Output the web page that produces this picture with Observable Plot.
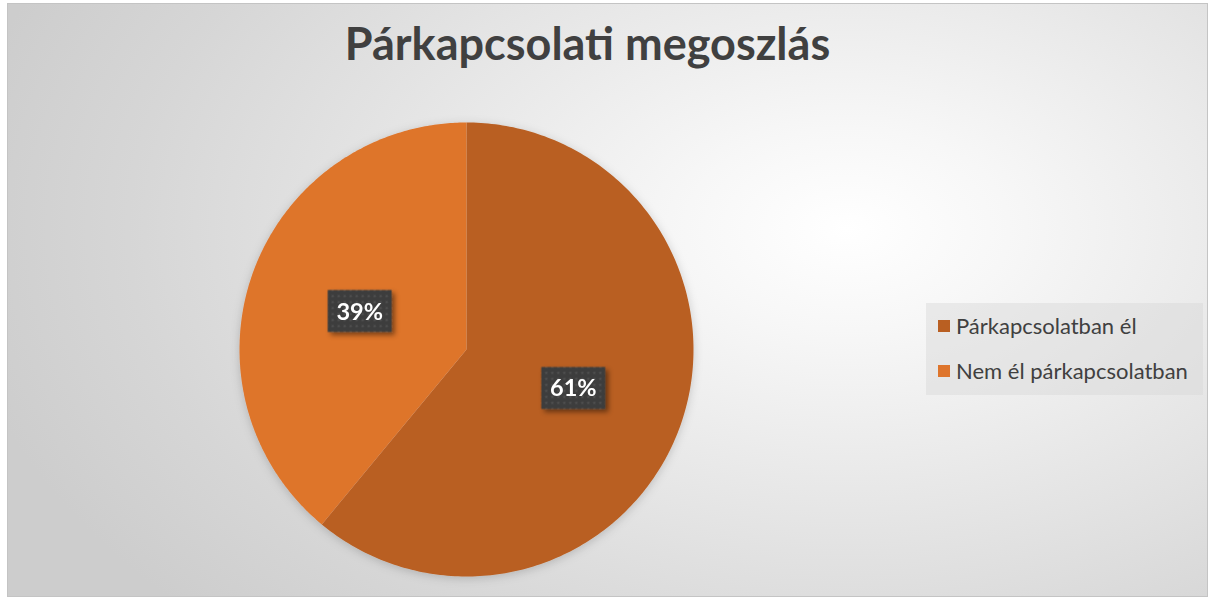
<!DOCTYPE html>
<html>
<head>
<meta charset="utf-8">
<script src="https://cdn.jsdelivr.net/npm/d3@7"></script>
<script src="https://cdn.jsdelivr.net/npm/@observablehq/plot@0.6"></script>
<style>
  html, body { margin: 0; padding: 0; background: #ffffff; }
  #wrap { position: relative; width: 1210px; height: 599px; overflow: hidden; }
  #frame {
    position: absolute; left: 7px; top: 3px; width: 1199px; height: 592px;
    border: 1px solid #c4c4c4;
    background: radial-gradient(ellipse 75% 95% at 70% 38%, #ffffff 0%, #f7f7f7 18%, #e6e6e6 50%, #d6d6d6 80%, #cdcdcd 100%);
  }
  #title {
    position: absolute; left: 0; width: 1175px; top: 16px; text-align: center;
    font-family: Lato, "Open Sans", sans-serif; font-weight: 700; font-size: 45px; color: #404040;
  }
  #chart { position: absolute; left: 0; top: 0; }
  #legend {
    position: absolute; left: 926px; top: 303px; width: 277px; height: 92px;
    background: rgba(215,215,215,0.45);
    font-family: Lato, "Open Sans", sans-serif; font-size: 22px; color: #404040;
  }
  .item { position: absolute; left: 12px; display: flex; align-items: center; white-space: nowrap; }
  .sw { width: 12px; height: 12px; margin-right: 6px; }
</style>
</head>
<body>
<div id="wrap">
  <div id="frame"></div>
  <div id="title"></div>
  <div id="chart"></div>
  <div id="legend"></div>
</div>
<script>
const title = "Párkapcsolati megoszlás";
const categories = ["Párkapcsolatban él", "Nem él párkapcsolatban"];
const values = [61, 39];
const colors = ["#B95F22", "#DE752C"];

document.getElementById("title").textContent = title;

// Pie geometry from the data
const arcs = d3.pie().sort(null).value(d => d)(values);
const slicePts = [];
arcs.forEach((a, i) => {
  const cat = categories[i];
  slicePts.push({cat, x: 0, y: 0});
  const n = 240;
  for (let k = 0; k <= n; k++) {
    const t = a.startAngle + (a.endAngle - a.startAngle) * k / n;
    slicePts.push({cat, x: Math.sin(t), y: Math.cos(t)});
  }
  slicePts.push({cat, x: 0, y: 0});
});
const labels = arcs.map((a, i) => {
  const m = (a.startAngle + a.endAngle) / 2;
  return {cat: categories[i], x: 0.5 * Math.sin(m), y: 0.5 * Math.cos(m), text: Math.round(values[i] / d3.sum(values) * 100) + "%"};
});

const cx = 466, cy = 349, R = 227;
const boxSymbol = { draw(ctx) { ctx.rect(-32, -21, 64, 42); } };

const svg = Plot.plot({
  width: 1210, height: 599,
  margin: 0,
  style: {background: "transparent", overflow: "visible"},
  x: {domain: [-1, 1], range: [cx - R, cx + R], axis: null},
  y: {domain: [-1, 1], range: [cy + R, cy - R], axis: null},
  color: {domain: categories, range: colors},
  marks: [
    Plot.line(slicePts, {x: "x", y: "y", z: "cat", fill: "cat", stroke: "none", curve: "linear"}),
    Plot.dot(labels, {x: "x", y: "y", symbol: boxSymbol, r: 10, fill: "#3f3f3f", stroke: "none"}),
    Plot.text(labels, {x: "x", y: "y", text: "text", fill: "#ffffff", fontSize: 23.5, fontWeight: 700, fontFamily: "Lato, 'Open Sans', sans-serif", dy: 1})
  ]
});

// Defs: dotted pattern + shadow for label boxes, shadow for pie
const ns = "http://www.w3.org/2000/svg";
const defs = document.createElementNS(ns, "defs");
defs.innerHTML = `
  <pattern id="dots" width="6" height="6" patternUnits="userSpaceOnUse">
    <rect width="6" height="6" fill="#3d3d3d"/>
    <rect x="2" y="2" width="2" height="2" fill="#555555"/>
  </pattern>
  <filter id="shadow" x="-30%" y="-30%" width="160%" height="160%">
    <feDropShadow dx="3" dy="3" stdDeviation="2.5" flood-color="#000" flood-opacity="0.45"/>
  </filter>
  <filter id="pieshadow" x="-10%" y="-10%" width="120%" height="120%">
    <feDropShadow dx="0" dy="2" stdDeviation="5" flood-color="#000" flood-opacity="0.18"/>
  </filter>`;
svg.insertBefore(defs, svg.firstChild);
const dotG = svg.querySelector('g[aria-label="dot"]');
if (dotG) {
  dotG.setAttribute("filter", "url(#shadow)");
  dotG.querySelectorAll("path").forEach(p => p.setAttribute("fill", "url(#dots)"));
}
const lineG = svg.querySelector('g[aria-label="line"]');
if (lineG) lineG.setAttribute("filter", "url(#pieshadow)");

document.getElementById("chart").appendChild(svg);

// Legend
const legend = document.getElementById("legend");
categories.forEach((c, i) => {
  const it = document.createElement("div");
  it.className = "item";
  it.style.top = (i === 0 ? 9 : 54) + "px";
  const sw = document.createElement("span");
  sw.className = "sw"; sw.style.background = colors[i];
  const tx = document.createElement("span");
  tx.textContent = c;
  it.appendChild(sw); it.appendChild(tx);
  legend.appendChild(it);
});
</script>
</body>
</html>
